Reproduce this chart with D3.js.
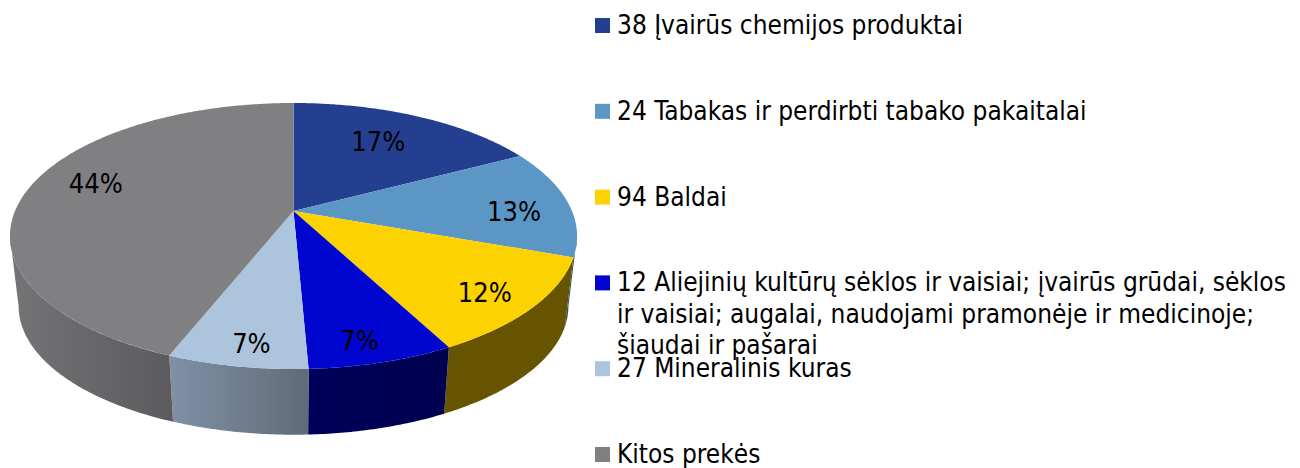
<!DOCTYPE html>
<html>
<head>
<meta charset="utf-8">
<script src="https://cdn.jsdelivr.net/npm/d3@7"></script>
<style>
  html, body { margin: 0; padding: 0; background: #fff; }
  text { font-family: "DejaVu Sans", sans-serif; font-stretch: condensed; fill: #000; }
</style>
</head>
<body>
<div id="chart"></div>
<script>
// values
const categories = [
  ["38 Įvairūs chemijos produktai"],
  ["24 Tabakas ir perdirbti tabako pakaitalai"],
  ["94 Baldai"],
  ["12 Aliejinių kultūrų sėklos ir vaisiai; įvairūs grūdai, sėklos",
   "ir vaisiai; augalai, naudojami pramonėje ir medicinoje;",
   "šiaudai ir pašarai"],
  ["27 Mineralinis kuras"],
  ["Kitos prekės"]
];
const shares = [17.3, 13.2, 11.8, 7.0, 6.7, 44.0];
const shareLabels = ["17%", "13%", "12%", "7%", "7%", "44%"];

// styles
const topColors = ["#243f8f", "#5b96c5", "#fcd200", "#0006cf", "#adc4dd", "#808083"];
const wallFrom = ["#1a2a60", "#2f5068", "#665400", "#00005c", "#8091a6", "#747477"];
const wallTo = ["#1a2a60", "#2f5068", "#665400", "#00004f", "#5f6b79", "#5b5b5d"];
const labelNudge = [[-15, 7], [6, 7], [10, 9], [0, 17], [0, 17], [10, -9]];

const width = 1300, height = 468;
const cx = 293.5;
const persp = 0.188; // perspective of the disc

// disc with perspective: apex is not the centre of the ellipse
const topDisc = { a: 278.5, b: 128.3, y0: 211 };
const baseDisc = { a: 270, b: 124, y0: 282 };

// the wall is only seen between the two points where the outline is widest
const wallStart = Math.PI / 2 + Math.asin(persp);
const wallEnd = 2 * Math.PI - wallStart;

function project(disc, angle, r = 1) {
  const u = r * Math.sin(angle), v = -r * Math.cos(angle);
  const w = 1 - persp * v;
  return [cx + disc.a * u / w, disc.y0 + disc.b * v / w];
}

function arcPoints(disc, a0, a1) {
  const n = Math.max(2, Math.ceil((a1 - a0) / 0.01));
  return d3.range(n + 1).map(i => project(disc, a0 + (a1 - a0) * i / n));
}

const svg = d3.select("#chart").append("svg")
  .attr("width", width)
  .attr("height", height)
  .style("display", "block");

const defs = svg.append("defs");
const polygon = d3.line().curve(d3.curveLinearClosed);

const slices = d3.pie().sort(null).value(d => d)(shares);

const walls = svg.append("g").attr("class", "walls");
slices.forEach((s, i) => {
  const a0 = Math.max(s.startAngle, wallStart);
  const a1 = Math.min(s.endAngle, wallEnd);
  if (a1 <= a0) return;

  const pts = arcPoints(topDisc, a0, a1)
    .concat(arcPoints(baseDisc, a0, a1).reverse());
  const grad = defs.append("linearGradient")
    .attr("id", `wall${i}`)
    .attr("gradientUnits", "userSpaceOnUse")
    .attr("x1", d3.min(pts, p => p[0]))
    .attr("x2", d3.max(pts, p => p[0]))
    .attr("y1", 0)
    .attr("y2", 0);
  grad.append("stop").attr("offset", 0).attr("stop-color", wallFrom[i]);
  grad.append("stop").attr("offset", 1).attr("stop-color", wallTo[i]);
  walls.append("path")
    .attr("d", polygon(pts))
    .attr("fill", `url(#wall${i})`);
});

const tops = svg.append("g").attr("class", "tops");
slices.forEach((s, i) => {
  const pts = [[cx, topDisc.y0]].concat(arcPoints(topDisc, s.startAngle, s.endAngle));
  tops.append("path")
    .attr("d", polygon(pts))
    .attr("fill", topColors[i]);
});

svg.append("g").attr("class", "labels")
  .selectAll("text")
  .data(slices)
  .enter().append("text")
  .attr("x", (s, i) => project(topDisc, (s.startAngle + s.endAngle) / 2, 0.78)[0] + labelNudge[i][0])
  .attr("y", (s, i) => project(topDisc, (s.startAngle + s.endAngle) / 2, 0.78)[1] + labelNudge[i][1])
  .attr("text-anchor", "middle")
  .attr("dominant-baseline", "central")
  .attr("font-size", 27)
  .text((s, i) => shareLabels[i]);

// legend
const legendY = d3.scalePoint()
  .domain(d3.range(categories.length))
  .range([25.5, 454.5]);

const legendItems = svg.append("g").attr("class", "legend")
  .selectAll("g")
  .data(categories)
  .enter().append("g")
  .attr("transform", (d, i) => `translate(595, ${legendY(i)})`);

legendItems.append("rect")
  .attr("y", -7.5)
  .attr("width", 15)
  .attr("height", 15)
  .attr("fill", (d, i) => topColors[i]);

legendItems.each(function(lines) {
  d3.select(this).selectAll("text")
    .data(lines)
    .enter().append("text")
    .attr("x", 22)
    .attr("y", (d, j) => 8.5 + j * 31.5)
    .attr("font-size", 26)
    .text(d => d);
});
</script>
</body>
</html>
